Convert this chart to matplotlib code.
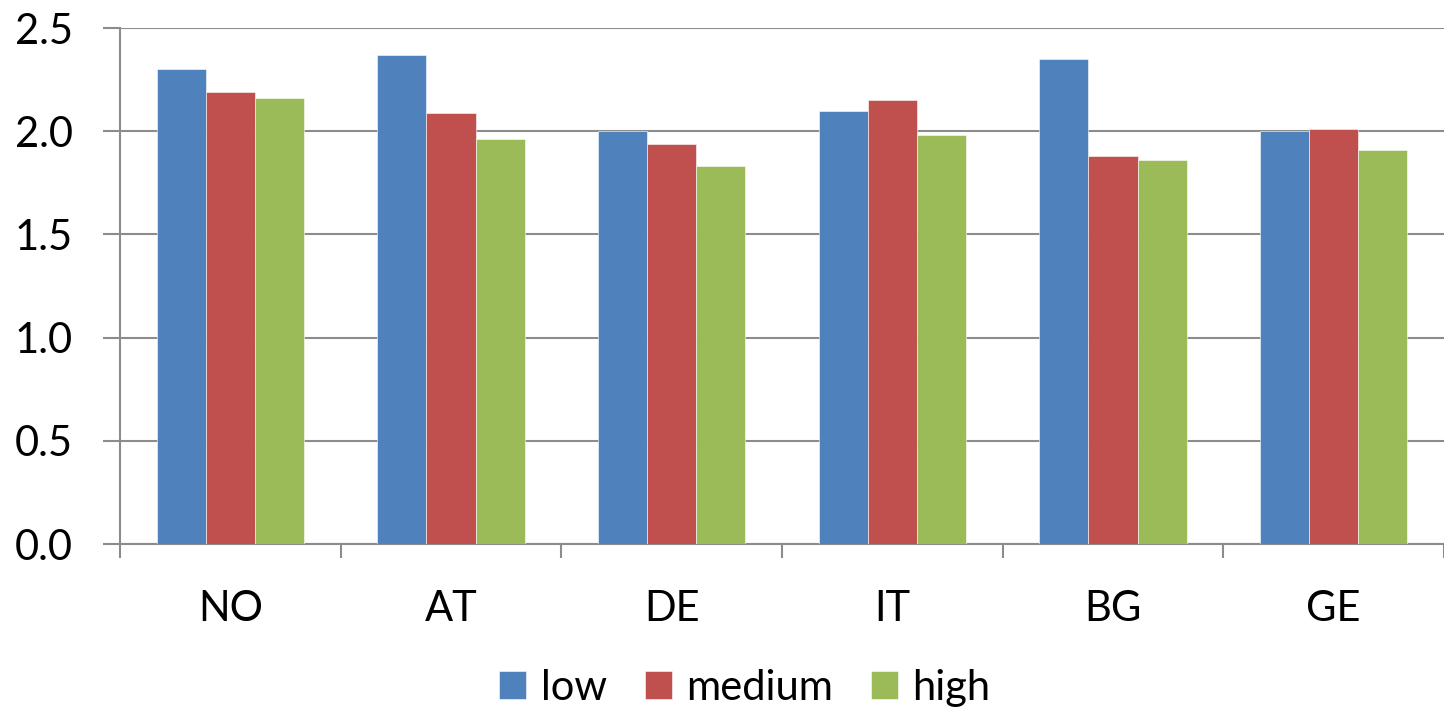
import numpy as np
import matplotlib
matplotlib.use("Agg")
import matplotlib.pyplot as plt
from matplotlib.ticker import FixedLocator

countries = ["NO", "AT", "DE", "IT", "BG", "GE"]
low = [2.30, 2.37, 2.00, 2.10, 2.35, 2.00]
medium = [2.19, 2.09, 1.94, 2.15, 1.88, 2.01]
high = [2.16, 1.96, 1.83, 1.98, 1.86, 1.91]
yticks = [0.0, 0.5, 1.0, 1.5, 2.0, 2.5]

plt.rcParams['font.family'] = ['Lato', 'DejaVu Sans']

fig = plt.figure(figsize=(14.44, 7.10), dpi=100)
ax = fig.add_axes([120 / 1444, 1 - 544 / 710, 1324 / 1444, 516 / 710])

x = np.arange(len(countries))
w = 1 / 4.5
cols = ["#4F81BD", "#C0504D", "#9BBB59"]
for i, (vals, name) in enumerate([(low, "low"), (medium, "medium"), (high, "high")]):
    ax.bar(x + (i - 1) * w, vals, width=w, color=cols[i], label=name,
           edgecolor="white", linewidth=0.4, zorder=3)

ax.set_xlim(-0.5, len(countries) - 0.5)
ax.set_ylim(0, 2.5)
ax.set_yticks(yticks)
ax.set_yticklabels([f"{v:.1f}" for v in yticks])
ax.yaxis.grid(True, color="#8c8c8c", linewidth=1.5, zorder=0)
ax.set_axisbelow(True)

ax.set_xticks(x)
ax.set_xticklabels(countries)
ax.xaxis.set_minor_locator(FixedLocator(np.arange(-0.5, len(countries), 1.0)))
ax.tick_params(axis="x", which="major", length=0, pad=33, labelsize=30)
ax.tick_params(axis="x", which="minor", length=10, width=1.5, color="#8c8c8c")
ax.tick_params(axis="y", length=12, width=1.5, color="#8c8c8c", pad=22, labelsize=30)

for s in ["top", "right"]:
    ax.spines[s].set_visible(False)
ax.spines["left"].set_color("#8c8c8c")
ax.spines["left"].set_linewidth(1.5)
ax.spines["bottom"].set_color("#8c8c8c")
ax.spines["bottom"].set_linewidth(1.5)

fig.legend(loc="center", bbox_to_anchor=(745 / 1444, 1 - 688 / 710), ncol=3,
           frameon=False, fontsize=30, handlelength=0.65, handleheight=0.65,
           handletextpad=0.35, columnspacing=0.9, borderaxespad=0)

fig.savefig("out.png", dpi=100)
